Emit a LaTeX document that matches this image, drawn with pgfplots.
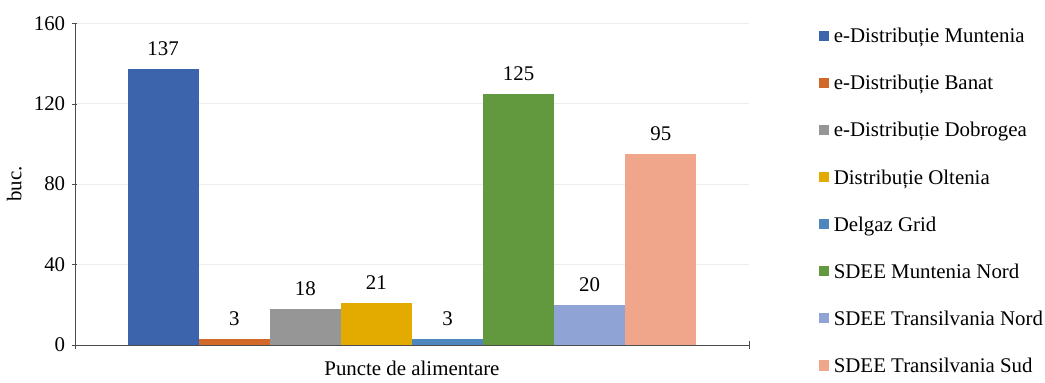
\documentclass[border=0pt]{standalone}
\usepackage{fontspec}
\setmainfont{Liberation Serif}
\usepackage{pgfplots}
\pgfplotsset{compat=1.18}

\definecolor{cA}{RGB}{59,100,173}
\definecolor{cB}{RGB}{210,105,40}
\definecolor{cC}{RGB}{150,150,150}
\definecolor{cD}{RGB}{227,170,0}
\definecolor{cE}{RGB}{78,134,190}
\definecolor{cF}{RGB}{98,153,62}
\definecolor{cG}{RGB}{143,164,212}
\definecolor{cH}{RGB}{240,166,138}

\newcommand{\fs}{\fontsize{20.5}{24}\selectfont}

\begin{document}
\fs
\begin{tikzpicture}
\begin{axis}[
    scale only axis,
    width=662pt, height=316pt,
    ybar=0pt,
    bar width=69.8pt,
    xmin=-1, xmax=1,
    ymin=0, ymax=160,
    ytick={0,40,80,120,160},
    xtick={0},
    xticklabels={Puncte de alimentare},
    major tick length=5pt,
    x tick style={draw=none},
    extra x ticks={-1,1},
    extra x tick labels={},
    extra x tick style={x tick style={draw=black!70}, major tick length=7pt},
    y tick style={draw=black!70},
    tick align=outside,
    axis x line=bottom, axis y line=left,
    axis line style={-, draw=black!70},
    ymajorgrids,
    grid style={draw=black!7},
    ylabel={buc.},
    ylabel style={yshift=-2pt},
    xticklabel style={yshift=-6pt},
    /pgf/number format/assume math mode=true,
    tick label style={font=\fs},
    label style={font=\fs},
    nodes near coords,
    nodes near coords style={font=\fs, yshift=6pt},
    legend style={at={(rel axis cs:1,1)}, anchor=north west, xshift=68pt, yshift=0pt,
      draw=none, fill=none, inner sep=0pt, row sep=22.2pt, column sep=3pt,
      cells={anchor=west, inner sep=0pt, text height=17pt, text depth=3pt},
      font=\fs},
    legend image code/.code={\fill[#1] (0pt,-5pt) rectangle (10pt,5pt);},
    every axis plot/.append style={draw=none},
]
\addplot[fill=cA] coordinates {(0,137)};
\addplot[fill=cB] coordinates {(0,3)};
\addplot[fill=cC] coordinates {(0,18)};
\addplot[fill=cD] coordinates {(0,21)};
\addplot[fill=cE] coordinates {(0,3)};
\addplot[fill=cF] coordinates {(0,125)};
\addplot[fill=cG] coordinates {(0,20)};
\addplot[fill=cH] coordinates {(0,95)};
\legend{e-Distribuție Muntenia, e-Distribuție Banat, e-Distribuție Dobrogea, Distribuție Oltenia, Delgaz Grid, SDEE Muntenia Nord, SDEE Transilvania Nord, SDEE Transilvania Sud}
\end{axis}
\path ([yshift=9pt]current bounding box.north);
\end{tikzpicture}
\end{document}
